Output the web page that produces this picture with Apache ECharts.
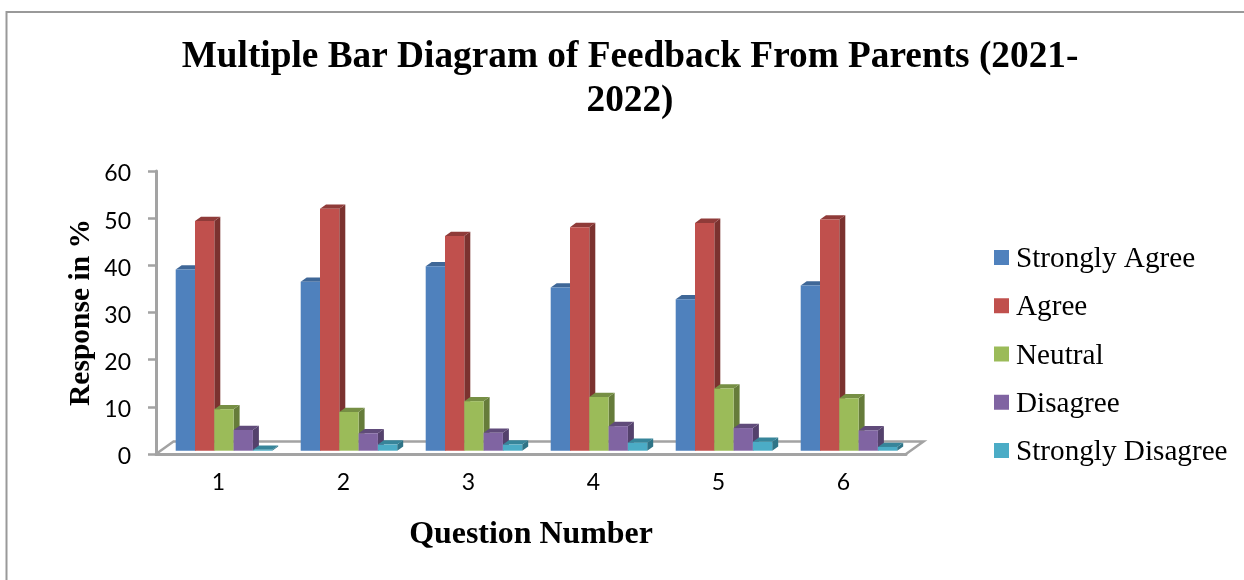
<!DOCTYPE html>
<html>
<head>
<meta charset="utf-8">
<title>Multiple Bar Diagram of Feedback From Parents</title>
<script src="https://cdn.jsdelivr.net/npm/echarts@6/dist/echarts.min.js"></script>
<style>
  html, body { margin: 0; padding: 0; background: #fff; }
  #chart { width: 1244px; height: 580px; }
</style>
</head>
<body>
<div id="chart"></div>
<script>
const questions = ['1', '2', '3', '4', '5', '6'];
const yTicks = [0, 10, 20, 30, 40, 50, 60];
const stronglyAgree = [38.4, 35.8, 39.1, 34.6, 32.1, 35.0];
const agree = [48.7, 51.3, 45.5, 47.4, 48.3, 49.0];
const neutral = [8.8, 8.2, 10.5, 11.4, 13.2, 11.1];
const disagree = [4.4, 3.7, 3.8, 5.2, 4.8, 4.3];
const stronglyDisagree = [0.2, 1.3, 1.3, 1.7, 1.9, 0.8];

const seriesList = [
  { name: 'Strongly Agree', values: stronglyAgree, front: '#4f81bd', top: '#3f6797', side: '#3a5f8c' },
  { name: 'Agree', values: agree, front: '#c0504d', top: '#8f3b39', side: '#7b322f' },
  { name: 'Neutral', values: neutral, front: '#9bbb59', top: '#768f44', side: '#667c3a' },
  { name: 'Disagree', values: disagree, front: '#8064a2', top: '#604b7a', side: '#54416c' },
  { name: 'Strongly Disagree', values: stronglyDisagree, front: '#4bacc6', top: '#37859a', side: '#2f7487' },
];

// fake 3D look: bar depth and floor depth, in px
const BAR_W = 19.3;
const GROUP_OFFSET = 19.7;
const BASE_LIFT = 3.3;
const DEPTH_X = 6;
const DEPTH_Y = 4.3;
const FLOOR_X = 17.5;
const FLOOR_Y = 12.5;

const SERIF = '"Liberation Serif", serif';
const GRAY = '#a3a3a3';

function renderBar(s, idx) {
  return function (params, api) {
    const p = api.coord([api.value(0), api.value(1)]);
    const band = api.size([1, 0])[0];
    const x0 = p[0] - band / 2 + GROUP_OFFSET + idx * BAR_W;
    const x1 = x0 + BAR_W;
    const yTop = p[1] - BASE_LIFT;
    const yBase = api.coord([api.value(0), 0])[1] - BASE_LIFT;
    return {
      type: 'group',
      children: [
        {
          type: 'polygon',
          shape: { points: [[x1, yTop], [x1 + DEPTH_X, yTop - DEPTH_Y], [x1 + DEPTH_X, yBase - DEPTH_Y], [x1, yBase]] },
          style: { fill: s.side },
        },
        {
          type: 'polygon',
          shape: { points: [[x0, yTop], [x0 + DEPTH_X, yTop - DEPTH_Y], [x1 + DEPTH_X, yTop - DEPTH_Y], [x1, yTop]] },
          style: { fill: s.top },
        },
        {
          type: 'rect',
          shape: { x: x0, y: yTop, width: BAR_W, height: yBase - yTop },
          style: { fill: s.front },
        },
      ],
    };
  };
}

function renderFloor(params, api) {
  const c = params.coordSys;
  const y = c.y + c.height;
  return {
    type: 'polyline',
    shape: { points: [[c.x, y], [c.x + FLOOR_X, y - FLOOR_Y], [c.x + c.width + FLOOR_X, y - FLOOR_Y], [c.x + c.width, y]] },
    style: { fill: 'none', stroke: GRAY, lineWidth: 2.5 },
  };
}

const chart = echarts.init(document.getElementById('chart'), null, { renderer: 'canvas' });

chart.setOption({
  animation: false,
  backgroundColor: '#fff',
  title: {
    text: 'Multiple Bar Diagram of Feedback From Parents (2021-\n2022)',
    left: 625,
    top: 30,
    textAlign: 'center',
    textStyle: { fontFamily: SERIF, fontSize: 37.3, fontWeight: 'bold', color: '#000', lineHeight: 44.5 },
  },
  legend: {
    orient: 'vertical',
    left: 989,
    top: 236,
    itemWidth: 15,
    itemHeight: 15,
    itemGap: 15.25,
    icon: 'rect',
    selectedMode: false,
    data: seriesList.map((s) => ({ name: s.name, itemStyle: { color: s.front } })),
    formatter: (name) => `{t|${name}}`,
    textStyle: {
      rich: {
        t: { fontFamily: SERIF, fontSize: 29.2, color: '#000', lineHeight: 29, padding: [4, 0, 0, 2] },
      },
    },
  },
  grid: { left: 156, top: 171, width: 750, height: 283 },
  xAxis: {
    type: 'category',
    data: questions,
    name: 'Question Number',
    nameLocation: 'middle',
    nameGap: 65,
    nameTextStyle: { fontFamily: SERIF, fontSize: 31.9, fontWeight: 'bold', color: '#000' },
    axisLine: { lineStyle: { color: GRAY, width: 3 } },
    axisTick: { show: false },
    axisLabel: { fontFamily: 'Lato', fontSize: 23, color: '#000', margin: 17 },
  },
  yAxis: {
    type: 'value',
    min: yTicks[0],
    max: yTicks[yTicks.length - 1],
    interval: yTicks[1] - yTicks[0],
    name: 'Response in %',
    nameLocation: 'middle',
    nameGap: 60,
    nameRotate: 90,
    nameMoveOverlap: false,
    nameTextStyle: { fontFamily: SERIF, fontSize: 29.5, fontWeight: 'bold', color: '#000' },
    splitLine: { show: false },
    axisLine: { show: true, lineStyle: { color: GRAY, width: 3 } },
    axisTick: { show: true, length: 8, lineStyle: { color: GRAY, width: 2.5 } },
    // lineHeight 6 + top align pushes the digits ~3px below the tick, as in the original
    axisLabel: { fontFamily: 'Lato', fontSize: 23, color: '#000', margin: 25, verticalAlign: 'top', lineHeight: 6 },
  },
  graphic: [{
    type: 'polyline',
    shape: { points: [[6.5, 580], [6.5, 12], [1244, 12]] },
    style: { fill: 'none', stroke: '#999', lineWidth: 2 },
  }],
  series: [
    { type: 'custom', name: 'floor', data: [[0, 0]], renderItem: renderFloor, clip: false, silent: true, z: 1 },
  ].concat(seriesList.map((s, i) => ({
    type: 'custom',
    name: s.name,
    itemStyle: { color: s.front },
    data: s.values.map((v, q) => [q, v]),
    encode: { x: 0, y: 1 },
    renderItem: renderBar(s, i),
    clip: false,
    z: 3 + i,
  }))),
});
</script>
</body>
</html>
